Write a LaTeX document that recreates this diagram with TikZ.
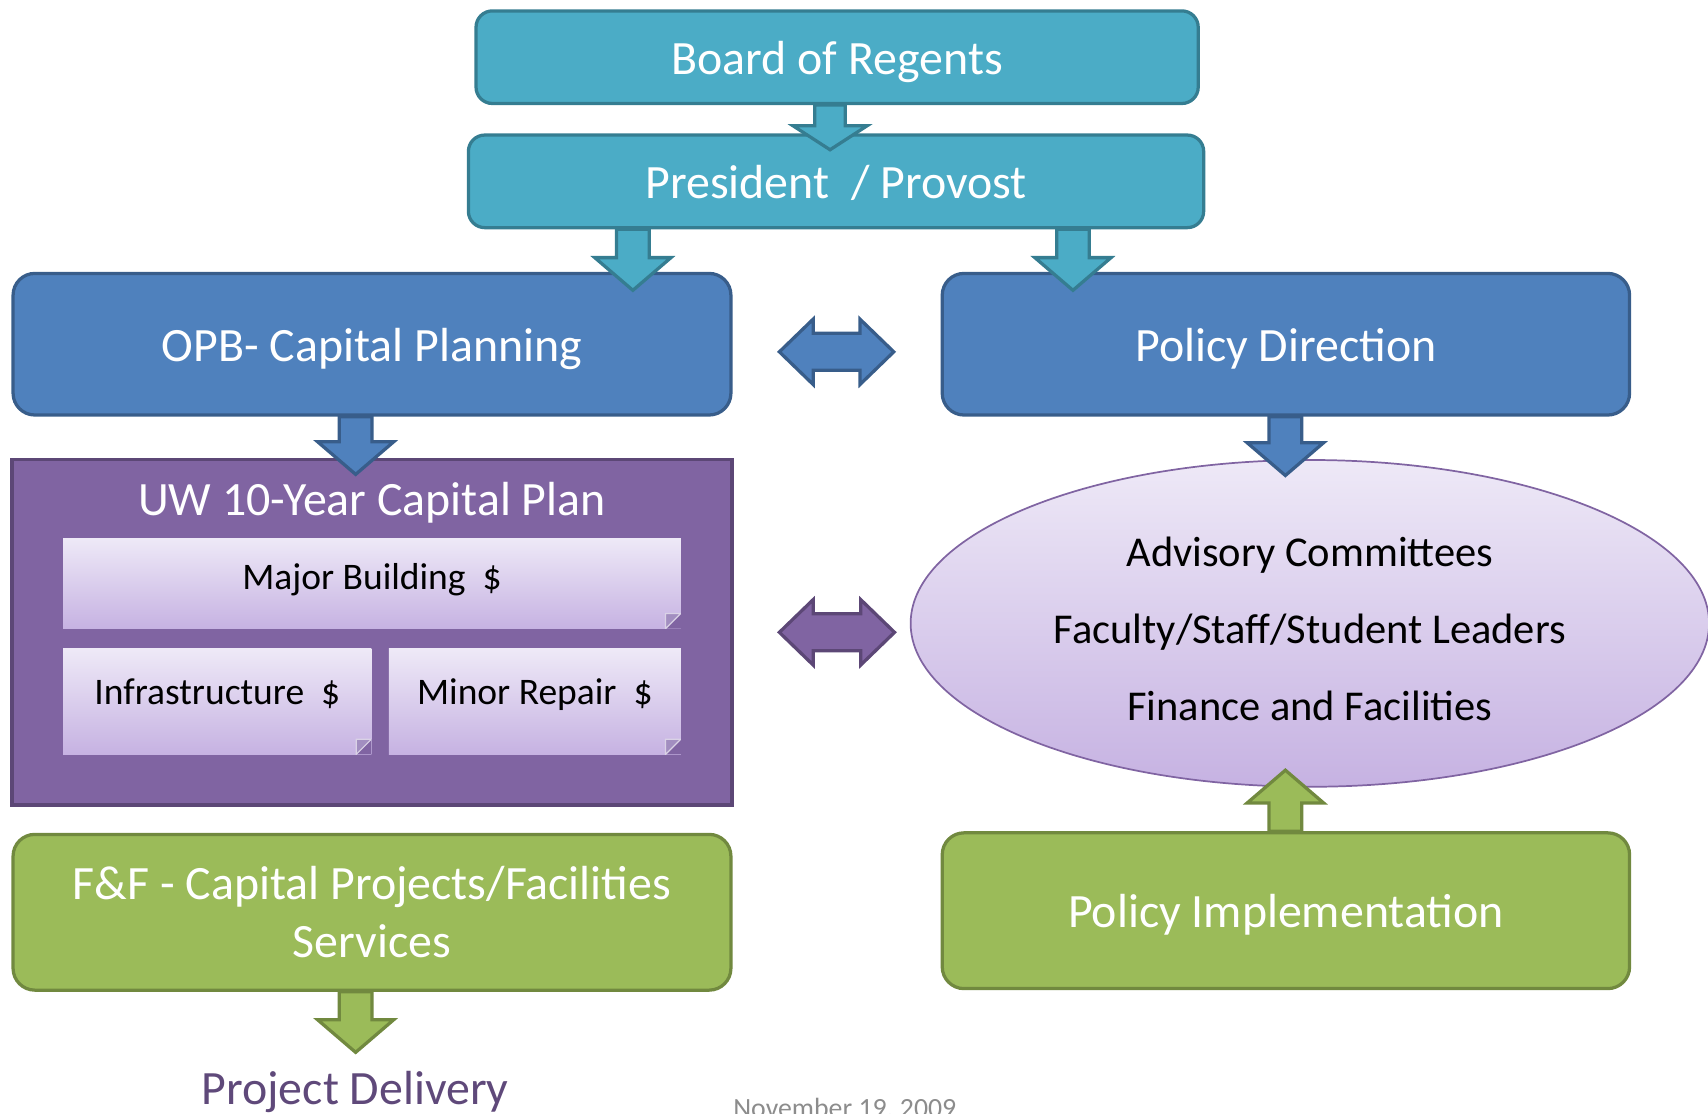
\documentclass[tikz,border=0pt]{standalone}
\usepackage{fontspec}
\setmainfont{Carlito}
\usetikzlibrary{shapes.geometric, positioning, calc}

\definecolor{regentfill}{HTML}{4BACC6}
\definecolor{regentline}{HTML}{357D91}
\definecolor{planfill}{HTML}{4F81BD}
\definecolor{planline}{HTML}{385D8A}
\definecolor{capfill}{HTML}{8064A2}
\definecolor{capline}{HTML}{5C4776}
\definecolor{ffill}{HTML}{9BBB59}
\definecolor{ffline}{HTML}{71893F}
\definecolor{lavtop}{HTML}{EEE9F7}
\definecolor{lavbot}{HTML}{C6B2E2}
\definecolor{foldcol}{HTML}{A28EC0}
\definecolor{delivtext}{HTML}{5F497A}
\definecolor{datetext}{HTML}{8C8C8C}

\tikzset{
    shaftw/.store in=\shaftw, headw/.store in=\headw, headl/.store in=\headl,
    shaftw=0.15cm, headw=0.35cm, headl=0.30cm,
    bigfont/.style={font=\fontsize{12.5}{15.1}\selectfont},
    oneline/.style={text height=0.32cm, text depth=0.01cm},
    topbox/.style={rectangle, rounded corners=0.15cm, minimum height=0.85cm, draw=regentline, fill=regentfill, line width=0.85pt, text=white, bigfont, oneline},
    bluebox/.style={rectangle, rounded corners=0.2cm, minimum height=1.3cm, draw=planline, fill=planfill, line width=0.85pt, text=white, bigfont, oneline},
    greenbox/.style={rectangle, rounded corners=0.2cm, minimum height=1.43cm, draw=ffline, fill=ffill, line width=0.85pt, text=white, bigfont, align=center},
    planbox/.style={rectangle, minimum width=6.61cm, minimum height=3.17cm, draw=capline, fill=capfill, line width=0.85pt},
    notebox/.style={rectangle, inner sep=0pt, top color=lavtop, bottom color=lavbot, font=\fontsize{9.8}{12}\selectfont,
        path picture={
            \coordinate (fc) at (path picture bounding box.south east);
            \fill[capfill] ([xshift=-0.14cm]fc) -- (fc) -- ([yshift=0.14cm]fc) -- cycle;
            \filldraw[fill=foldcol, draw=foldcol!40!white, line width=0.3pt] ([xshift=-0.14cm]fc) -- ([yshift=0.14cm]fc) -- ([shift={(-0.14cm,0.14cm)}]fc) -- cycle;
        }},
    groupshape/.style={ellipse, minimum width=7.33cm, minimum height=3.0cm, inner sep=0pt, draw=capfill, line width=0.45pt, top color=lavtop, bottom color=lavbot},
    grouptext/.style={align=center, font=\fontsize{11.1}{20}\selectfont},
    blockarrow/.style={line width=0.85pt, line join=miter, to path={
        ($(\tikztostart)!\shaftw!90:(\tikztotarget)$)
        -- ($(\tikztotarget)!\headl!(\tikztostart)!\shaftw!90:(\tikztotarget)$)
        -- ($(\tikztotarget)!\headl!(\tikztostart)!\headw!90:(\tikztotarget)$)
        -- (\tikztotarget)
        -- ($(\tikztotarget)!\headl!(\tikztostart)!\headw!-90:(\tikztotarget)$)
        -- ($(\tikztotarget)!\headl!(\tikztostart)!\shaftw!-90:(\tikztotarget)$)
        -- ($(\tikztostart)!\shaftw!-90:(\tikztotarget)$)
        -- cycle}},
    dblarrow/.style={line width=0.85pt, line join=miter, to path={
        (\tikztostart)
        -- ($(\tikztostart)!\headl!(\tikztotarget)!\headw!90:(\tikztotarget)$)
        -- ($(\tikztostart)!\headl!(\tikztotarget)!\shaftw!90:(\tikztotarget)$)
        -- ($(\tikztotarget)!\headl!(\tikztostart)!\shaftw!-90:(\tikztostart)$)
        -- ($(\tikztotarget)!\headl!(\tikztostart)!\headw!-90:(\tikztostart)$)
        -- (\tikztotarget)
        -- ($(\tikztotarget)!\headl!(\tikztostart)!\headw!90:(\tikztostart)$)
        -- ($(\tikztotarget)!\headl!(\tikztostart)!\shaftw!90:(\tikztostart)$)
        -- ($(\tikztostart)!\headl!(\tikztotarget)!\shaftw!-90:(\tikztotarget)$)
        -- ($(\tikztostart)!\headl!(\tikztotarget)!\headw!-90:(\tikztotarget)$)
        -- cycle}}
}

\begin{document}
\begin{tikzpicture}
    \useasboundingbox (0,0) rectangle (15.68,-10.22);

    % Top of the chain
    \node[topbox, minimum width=6.63cm] (board) at (7.685,-0.525) {Board of Regents};
    \node[topbox, minimum width=6.75cm, below=0.26cm of board, xshift=-0.01cm] (pres) {President~ / Provost};

    % Planning and policy
    \node[bluebox, minimum width=6.59cm] (opb) at (3.415,-3.16) {OPB- Capital Planning};
    \node[bluebox, minimum width=6.31cm, right=1.91cm of opb] (policy) {Policy Direction};

    % Capital plan with its parts
    \node[planbox, below=0.38cm of opb] (plan) {};
    \node[anchor=base, text=white, bigfont] (plantitle) at ([yshift=-0.53cm]plan.north) {UW 10-Year Capital Plan};
    \node[notebox, minimum width=5.67cm, text height=0.47cm, text depth=0.36cm, anchor=north] (major) at ([yshift=-0.73cm]plan.north) {Major Building~ \$};
    \node[notebox, minimum width=2.83cm, text height=0.51cm, text depth=0.46cm, below right=0.17cm and 0cm of major.south west] (infra) {Infrastructure~ \$};
    \node[notebox, minimum width=2.68cm, text height=0.51cm, text depth=0.46cm, below left=0.17cm and 0cm of major.south east] (minor) {Minor Repair~ \$};

    % Advisory groups
    \node[groupshape, below=0.39cm of policy, xshift=0.22cm] (advisory) {};
    \node[grouptext] (members) at ([yshift=-0.05cm]advisory.center) {Advisory Committees\\Faculty/Staff/Student Leaders\\Finance and Facilities};

    % Delivery side
    \node[greenbox, minimum width=6.59cm, below=0.24cm of plan] (ff) {F\&F - Capital Projects/Facilities\\Services};
    \node[greenbox, oneline, minimum width=6.31cm, below=0.40cm of advisory, xshift=-0.22cm] (impl) {Policy Implementation};
    \node[anchor=base, text=delivtext, bigfont] (deliver) at (3.26,-10.14) {Project Delivery};
    \node[anchor=base, text=datetext, font=\fontsize{7.26}{9}\selectfont] (date) at (7.755,-10.26) {November 19, 2009};

    % Arrows
    \draw[blockarrow, fill=regentfill, draw=regentline, shaftw=0.14cm, headw=0.34cm, headl=0.22cm] (board.south -| 7.62,0) to ([yshift=-0.15cm]pres.north -| 7.62,0);
    \draw[blockarrow, fill=regentfill, draw=regentline] (pres.south -| 5.81,0) to ([yshift=-0.17cm]opb.north -| 5.81,0);
    \draw[blockarrow, fill=regentfill, draw=regentline] (pres.south -| 9.85,0) to ([yshift=-0.17cm]policy.north -| 9.85,0);
    \draw[blockarrow, fill=planfill, draw=planline] (opb.south -| 3.265,0) to ([yshift=-0.15cm]plan.north -| 3.265,0);
    \draw[blockarrow, fill=planfill, draw=planline] (policy.south -| 11.80,0) to ([yshift=-0.15cm]advisory.north -| 11.80,0);
    \draw[blockarrow, fill=ffill, draw=ffline] (impl.north -| 11.80,0) to ([yshift=0.16cm]advisory.south -| 11.80,0);
    \draw[blockarrow, fill=ffill, draw=ffline] (ff.south -| 3.265,0) to ([yshift=0.05cm]deliver.north -| 3.265,0);
    \draw[dblarrow, fill=planfill, draw=planline, shaftw=0.17cm, headw=0.30cm, headl=0.31cm] ([xshift=0.43cm, yshift=-0.07cm]opb.east) to ([xshift=-0.43cm, yshift=-0.07cm]policy.west);
    \draw[dblarrow, fill=capfill, draw=capline, shaftw=0.17cm, headw=0.30cm, headl=0.31cm] ([xshift=0.42cm]plan.east) to ([xshift=-0.14cm]plan.east -| advisory.west);
\end{tikzpicture}
\end{document}
